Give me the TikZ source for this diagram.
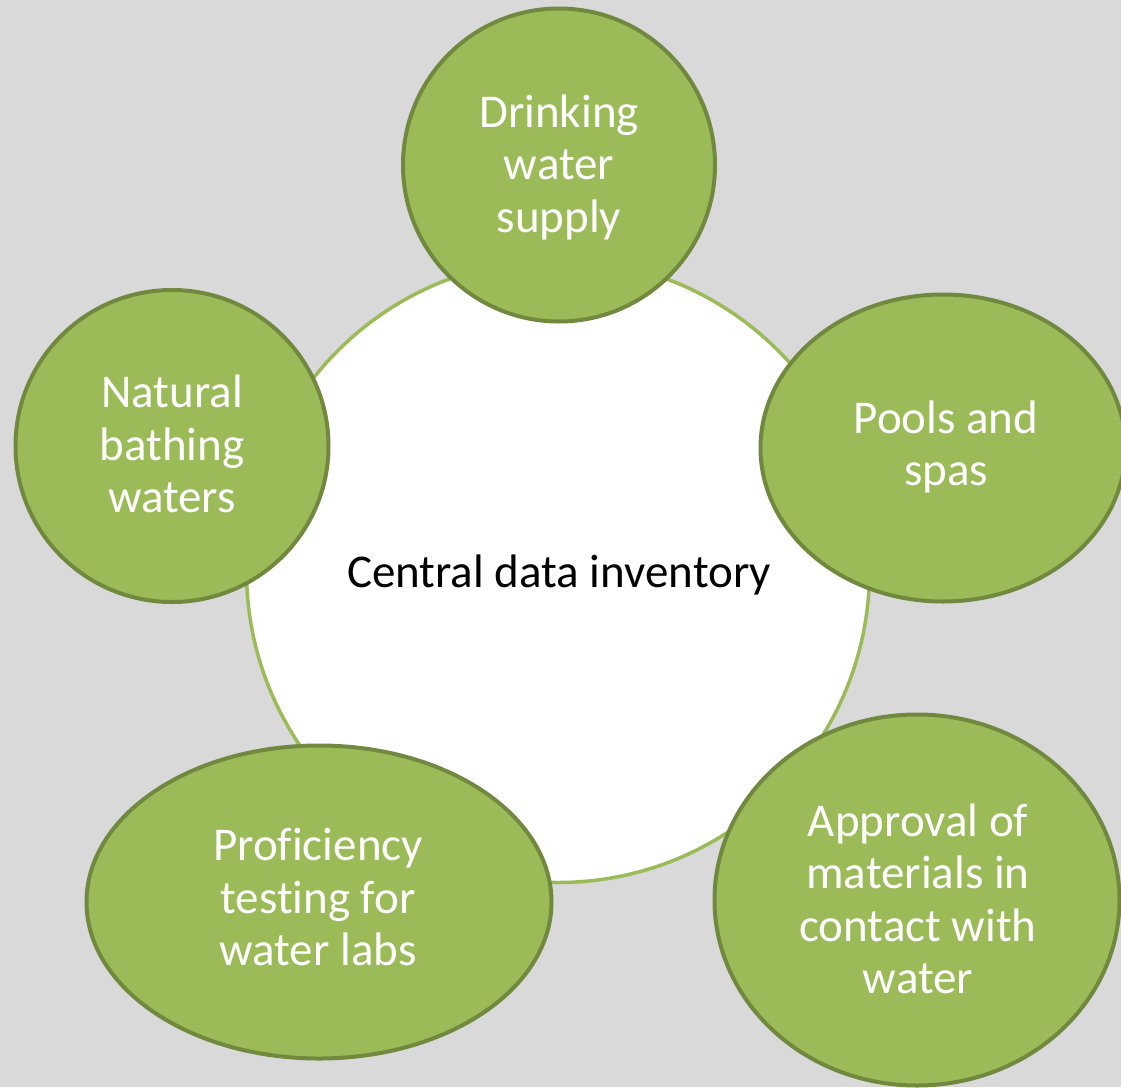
\documentclass[tikz,border=0pt]{standalone}
\usepackage{fontspec}
\setmainfont{Carlito}[Ligatures={NoCommon}]
\usetikzlibrary{shapes.geometric}
\definecolor{bgc}{HTML}{D9D9D9}
\definecolor{leaf}{HTML}{9BBB59}
\definecolor{leafdark}{HTML}{71893F}
\tikzset{
  bubble/.style={ellipse, draw=leafdark, fill=leaf, line width=4pt, inner sep=0pt},
  btext/.style={align=center, text=white, inner sep=0pt, font=\fontsize{47}{52.5}\selectfont},
  hub/.style={circle, draw=leaf, fill=white, line width=3.5pt, inner sep=0pt, minimum size=623pt},
  hubtext/.style={text=black, inner sep=0pt, font=\fontsize{47}{52.5}\selectfont}
}
\begin{document}
\begin{tikzpicture}[x=1pt,y=-1pt]
\useasboundingbox (0,0) rectangle (1121,1087);
\clip (0,0) rectangle (1121,1087);
\fill[bgc] (0,0) rectangle (1121,1087);
% central circle
\node[hub] (hub) at (558,571) {};
\node[hubtext, anchor=base] (hubT) at (559,587) {Central data inventory};
% satellites
\node[bubble, minimum width=312pt, minimum height=313pt] (drink) at (559,165) {};
\node[btext] (drinkT) at (559,167) {Drinking\\water\\supply};
\node[bubble, minimum width=365pt, minimum height=307pt] (pools) at (943,448) {};
\node[btext] (poolsT) at (946,447) {Pools and\\spas};
\node[bubble, minimum width=405pt, minimum height=371pt] (appr) at (917,900) {};
\node[btext] (apprT) at (918,899) {Approval of\\materials in\\contact with\\water};
\node[bubble, minimum width=465pt, minimum height=313pt] (prof) at (319,902) {};
\node[btext] (profT) at (318,897) {Proficiency\\testing for\\water labs};
\node[bubble, minimum width=313pt, minimum height=312pt] (nat) at (172,446) {};
\node[btext] (natT) at (172,444) {Natural\\bathing\\waters};
\end{tikzpicture}
\end{document}
